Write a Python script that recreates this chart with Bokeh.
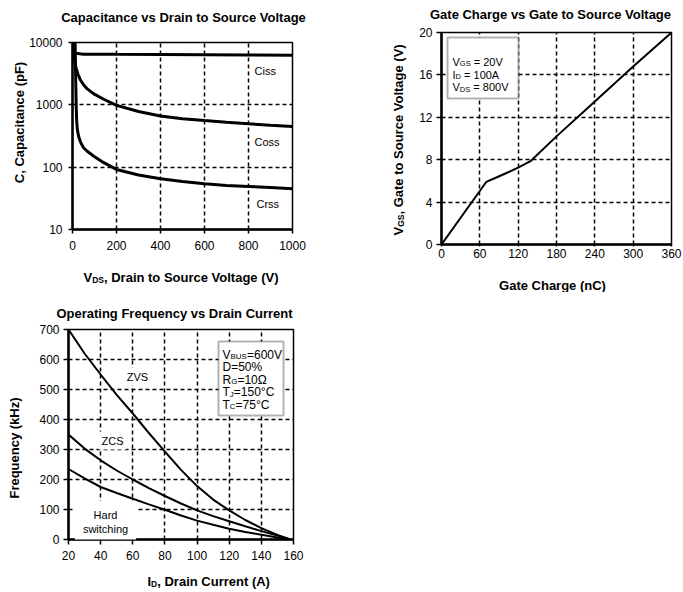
import math
from bokeh.plotting import figure
from bokeh.models import Range1d, FixedTicker, Label, BoxAnnotation
from bokeh.layouts import column, row
from bokeh.embed import file_html
from bokeh.resources import INLINE

# ---------------- data ----------------
# Capacitance vs VDS
ciss_v = [0, 5, 10, 14, 50, 200, 400, 600, 800, 1000]
ciss_c = [20000, 9000, 6900, 6700, 6500, 6450, 6400, 6350, 6300, 6250]
coss_v = [0, 3, 8, 15, 25, 36, 50, 67, 97, 142, 200, 300, 400, 500, 600, 700, 800, 900, 1000]
coss_c = [20000, 10000, 5500, 4000, 3100, 2500, 2100, 1800, 1500, 1230, 980, 780, 660, 600, 560, 525, 495, 470, 450]
crss_v = [0, 12, 15, 17, 19, 22, 28, 36, 50, 67, 97, 142, 200, 300, 400, 500, 600, 700, 800, 900, 1000]
crss_c = [20000, 10000, 2000, 900, 550, 400, 310, 255, 205, 180, 150, 118, 92, 75, 65, 59, 54, 51, 49, 47, 45]
cap_xticks = [0, 200, 400, 600, 800, 1000]
cap_yticks = [10, 100, 1000, 10000]

# Gate charge
qg = [0, 70, 85, 100, 120, 140, 180, 240, 300, 360]
vgs = [0, 5.9, 6.3, 6.7, 7.25, 7.9, 10.2, 13.5, 16.8, 20]
qg_xticks = [0, 60, 120, 180, 240, 300, 360]
qg_yticks = [0, 4, 8, 12, 16, 20]

# Operating frequency vs drain current
id_a = [20, 30, 40, 50, 60, 70, 80, 90, 100, 110, 120, 130, 140, 150, 158]
f_zvs = [700, 620, 550, 482, 420, 355, 293, 232, 178, 133, 97, 65, 38, 15, 0]
f_zcs = [350, 303, 264, 230, 200, 171, 145, 120, 97, 78, 61, 44, 28, 13, 0]
f_hard = [235, 204, 175, 155, 136, 117, 99, 80, 63, 49, 36, 25, 16, 7, 0]
fr_xticks = [20, 40, 60, 80, 100, 120, 140, 160]
fr_yticks = [0, 100, 200, 300, 400, 500, 600, 700]

FONT = "Liberation Sans"

# Arial-compatible advance widths (per 1000 em) for subscript placement
W_REG = {'V': 667, 'G': 778, 'S': 667, 'I': 278, 'D': 722, 'B': 667, 'U': 722,
         'R': 722, 'T': 611, 'J': 500, 'C': 722, ' ': 278}
W_BOLD = {'V': 667, 'D': 722, 'S': 667, 'G': 778, 'I': 278, ' ': 278}


def tw(s, size, bold):
    tab = W_BOLD if bold else W_REG
    return sum(tab.get(ch, 556) for ch in s) * size / 1000.0


def to_data(g, px, py):
    x = g['x0'] + (px - g['L']) / (g['R'] - g['L']) * (g['x1'] - g['x0'])
    t = (g['B'] - py) / (g['B'] - g['T'])
    if g['log']:
        a, b = math.log10(g['y0']), math.log10(g['y1'])
        y = 10 ** (a + t * (b - a))
    else:
        y = g['y0'] + t * (g['y1'] - g['y0'])
    return x, y


def lab(text, size, bold, angle, align, baseline, **kw):
    return Label(text=text, angle=angle, text_font=FONT, text_font_size=f"{size}px",
                 text_font_style="bold" if bold else "normal", text_color="black",
                 text_align=align, text_baseline=baseline, **kw)


def inner(p, g, px, py, text, size, bold=False, align="center", bg=None, pad=0):
    x, y = to_data(g, px, py)
    kw = dict(background_fill_color=bg, padding=pad) if bg else {}
    p.add_layout(lab(text, size, bold, 0, align, "middle", x=x, y=y, **kw))


def inner_rich(p, g, px, py, parts, size, sub_size):
    x, y = to_data(g, px, py)
    adv = 0.0
    for text, sub in parts:
        s = sub_size if sub else size
        sh = 0.18 * size if sub else 0.0
        lead = len(text) - len(text.lstrip(" "))
        adv += tw(" " * lead, s, False)
        t = text.lstrip(" ")
        p.add_layout(lab(t, s, False, 0, "left", "alphabetic", x=x, y=y,
                         x_offset=adv, y_offset=-sh))
        adv += tw(t, s, False)


def outer(p, g, px, py, text, size, side, bold=True, angle=0):
    """Plain centred text outside the frame, in canvas pixels."""
    p.add_layout(lab(text, size, bold, angle, "center", "middle",
                     x=px - g['fx'], y=py - g['fy'], x_units="canvas", y_units="canvas"), side)


def outer_rich(p, g, px, py, parts, size, sub_size, sides, bold=True, angle=0):
    """Text with subscripts outside the frame; px,py = baseline start (page px)."""
    cx, cy = px - g['fx'], py - g['fy']
    adv = 0.0
    for (text, sub), side in zip(parts, sides):
        s = sub_size if sub else size
        sh = 0.18 * size if sub else 0.0
        if angle == 0:
            x, y = cx + adv, cy + sh
        else:
            x, y = cx + sh, cy - adv
        p.add_layout(lab(text, s, bold, angle, "left", "alphabetic",
                         x=x, y=y, x_units="canvas", y_units="canvas"), side)
        adv += tw(text, s, bold)


def style(p, xt, yt, tick_out_x=4, standoff_x=7, tick_out_y=4, standoff_y=5):
    p.background_fill_color = "white"
    p.border_fill_color = "white"
    p.outline_line_color = "black"
    p.outline_line_width = 1.5
    p.xaxis.ticker = FixedTicker(ticks=xt)
    p.yaxis.ticker = FixedTicker(ticks=yt)
    for ax, to, so in ((p.xaxis, tick_out_x, standoff_x), (p.yaxis, tick_out_y, standoff_y)):
        ax.axis_line_width = 2.5
        ax.axis_line_color = "black"
        ax.major_tick_line_color = "black"
        ax.major_tick_line_width = 1.5
        ax.major_tick_out = to
        ax.major_tick_in = 0
        ax.minor_tick_line_color = None
        ax.major_label_standoff = so
        ax.major_label_text_font = FONT
        ax.major_label_text_font_size = "12px"
        ax.major_label_text_color = "black"
    for gr in (p.xgrid, p.ygrid):
        gr.grid_line_color = "black"
        gr.grid_line_dash = "4 3"
        gr.grid_line_width = 1.5


# ---------------- Plot 1: capacitance ----------------
g1 = dict(fx=0, fy=0, L=72, R=292, T=42, B=229, x0=0, x1=1000, y0=10, y1=10000, log=True)
p1 = figure(width=340, height=292, x_range=Range1d(0, 1000), y_range=Range1d(10, 10000),
            y_axis_type="log", output_backend="svg", toolbar_location=None,
            min_border_left=72, min_border_right=48, min_border_top=42, min_border_bottom=63)
style(p1, cap_xticks, cap_yticks, standoff_y=6)
p1.yaxis.major_label_overrides = {10: "10", 100: "100", 1000: "1000", 10000: "10000"}
for xs, ys in ((ciss_v, ciss_c), (coss_v, coss_c), (crss_v, crss_c)):
    p1.line(xs, ys, line_color="black", line_width=3)
inner(p1, g1, 251, 70, "Ciss", 11, align="left", bg="white", pad=3)
inner(p1, g1, 251, 141, "Coss", 11, align="left", bg="white", pad=3)
inner(p1, g1, 253, 203, "Crss", 11, align="left", bg="white", pad=3)
outer(p1, g1, 183, 17, "Capacitance vs Drain to Source Voltage", 13, "above")
outer(p1, g1, 19, 122, "C, Capacitance (pF)", 13, "left", angle=math.pi / 2)
outer_rich(p1, g1, 83, 276.7, [("V", 0), ("DS", 1), (", Drain to Source Voltage (V)", 0)], 13, 8.5,
           ["above", "right", "below"])

# ---------------- Plot 2: gate charge ----------------
g2 = dict(fx=340, fy=0, L=441, R=671, T=32, B=244, x0=0, x1=360, y0=0, y1=20, log=False)
p2 = figure(width=343, height=292, x_range=Range1d(0, 360), y_range=Range1d(0, 20),
            output_backend="svg", toolbar_location=None,
            min_border_left=101, min_border_right=12, min_border_top=32, min_border_bottom=48)
style(p2, qg_xticks, qg_yticks, tick_out_x=2, standoff_x=2, tick_out_y=5, standoff_y=4)
p2.line(qg, vgs, line_color="black", line_width=2)
bx0, by0 = to_data(g2, 447, 98)
bx1, by1 = to_data(g2, 518, 37)
p2.add_layout(BoxAnnotation(left=bx0, right=bx1, bottom=by0, top=by1, fill_color="white",
                            fill_alpha=1, line_color="black", line_width=2))
inner_rich(p2, g2, 452, 61, [("V", 0), ("GS", 1), (" = 20V", 0)], 11, 7.5)
inner_rich(p2, g2, 452, 74, [("I", 0), ("D", 1), (" = 100A", 0)], 11, 7.5)
inner_rich(p2, g2, 452, 86.7, [("V", 0), ("DS", 1), (" = 800V", 0)], 11, 7.5)
outer(p2, g2, 550, 14, "Gate Charge vs Gate to Source Voltage", 13, "above")
outer(p2, g2, 552, 285, "Gate Charge (nC)", 13, "below")
outer_rich(p2, g2, 397.7, 235, [("V", 0), ("GS", 1), (", Gate to Source Voltage (V)", 0)], 13, 8.5,
           ["left", "left", "left"], angle=math.pi / 2)

# ---------------- Plot 3: frequency ----------------
g3 = dict(fx=0, fy=292, L=68, R=293, T=329, B=539, x0=20, x1=160, y0=0, y1=700, log=False)
p3 = figure(width=340, height=300, x_range=Range1d(20, 160), y_range=Range1d(0, 700),
            output_backend="svg", toolbar_location=None,
            min_border_left=68, min_border_right=47, min_border_top=37, min_border_bottom=53)
style(p3, fr_xticks, fr_yticks, tick_out_x=5, standoff_x=6, tick_out_y=5, standoff_y=4)
for ys in (f_zvs, f_zcs, f_hard):
    p3.line(id_a, ys, line_color="black", line_width=2)
inner(p3, g3, 137, 376, "ZVS", 11, bg="white", pad=3)
inner(p3, g3, 112, 440, "ZCS", 11, bg="white", pad=3)
inner(p3, g3, 105, 521.5, "Hard\nswitching", 11, bg="white", pad=8)
cx0, cy0 = to_data(g3, 218, 415)
cx1, cy1 = to_data(g3, 283, 341)
p3.add_layout(BoxAnnotation(left=cx0, right=cx1, bottom=cy0, top=cy1, fill_color="white",
                            fill_alpha=1, line_color="black", line_width=2))
leg3 = [
    [("V", 0), ("BUS", 1), ("=600V", 0)],
    [("D=50%", 0)],
    [("R", 0), ("G", 1), ("=10Ω", 0)],
    [("T", 0), ("J", 1), ("=150°C", 0)],
    [("T", 0), ("C", 1), ("=75°C", 0)],
]
for i, parts in enumerate(leg3):
    inner_rich(p3, g3, 222, 354.3 + 12.5 * i, parts, 12, 8)
outer(p3, g3, 174, 313, "Operating Frequency vs Drain Current", 13, "above")
outer(p3, g3, 13.5, 447.5, "Frequency (kHz)", 13, "left", angle=math.pi / 2)
outer_rich(p3, g3, 147, 581, [("I", 0), ("D", 1), (", Drain Current (A)", 0)], 13, 8.5,
           ["above", "right", "below"])

layout = column(row(column(p1), column(p2)), p3)
open("out.html", "w").write(file_html(layout, INLINE))
